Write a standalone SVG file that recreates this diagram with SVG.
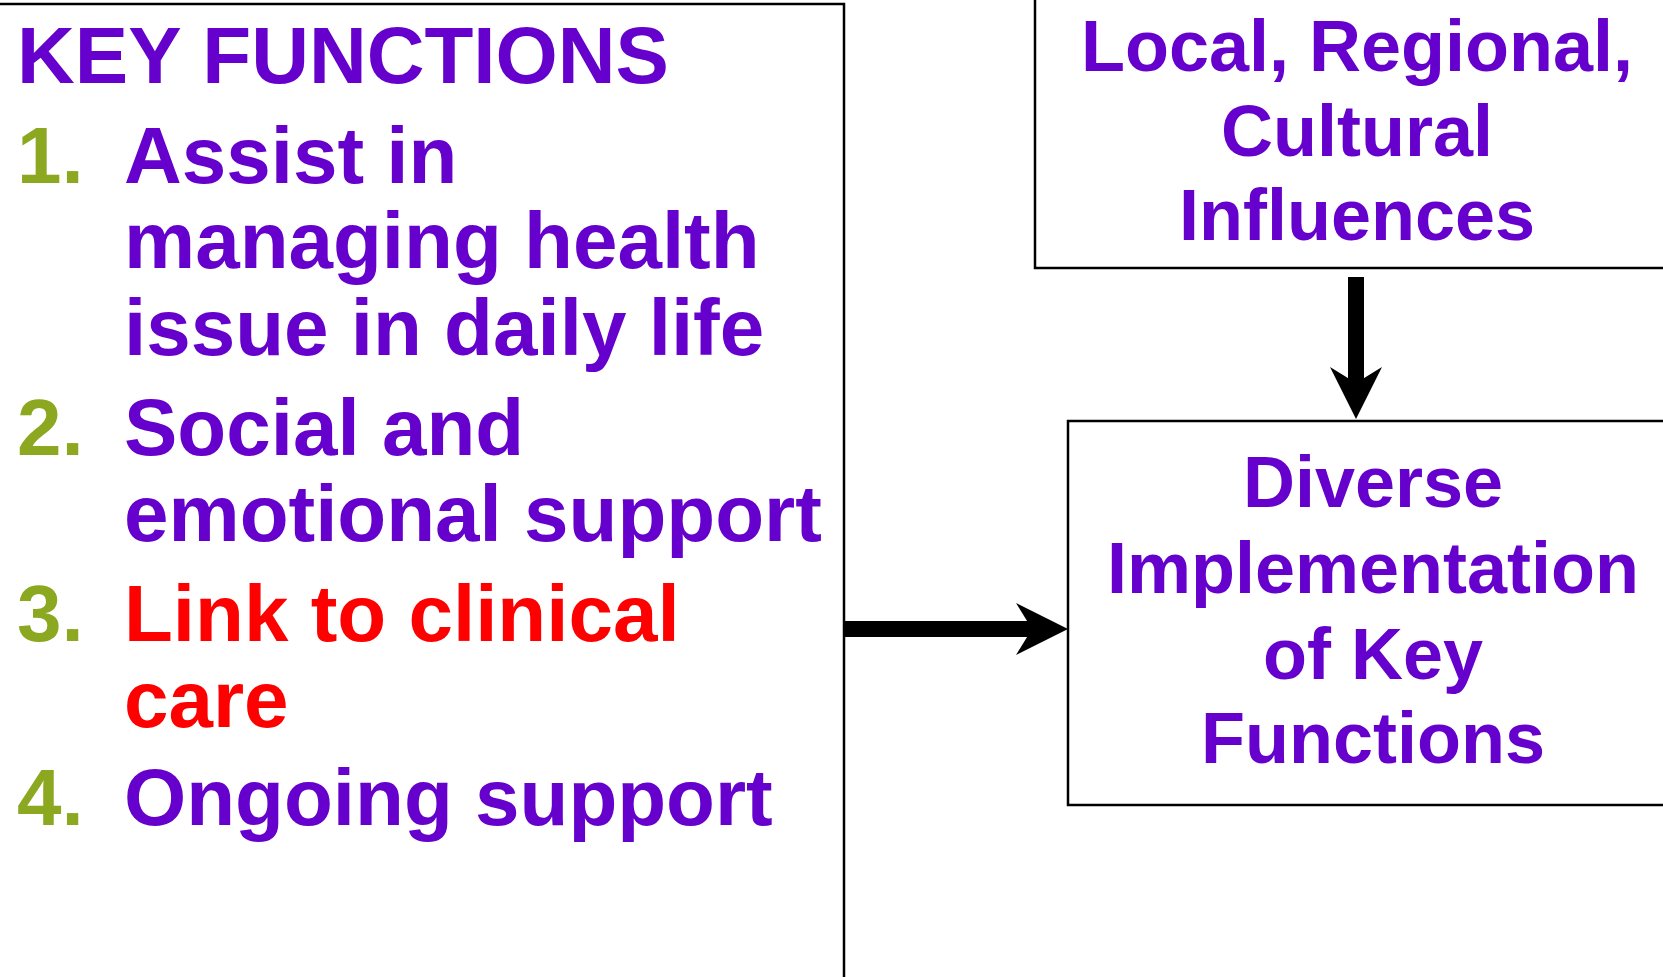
<svg xmlns="http://www.w3.org/2000/svg" width="1663" height="977" viewBox="0 0 1663 977">
  <style>
    .box { fill: #ffffff; stroke: #000000; stroke-width: 2.5; }
    .t { font-family: "Liberation Sans", Arial, sans-serif; font-weight: bold; }
    .list { font-size: 80px; }
    .lbl { font-size: 72px; text-anchor: middle; fill: #6600CC; }
    .purple { fill: #6600CC; }
    .num { fill: #8CA820; }
    .red { fill: #FF0000; }
    .conn { stroke: #000000; stroke-width: 16; fill: none; }
  </style>
  <defs>
    <marker id="head" viewBox="0 0 52 52" refX="16" refY="26" markerWidth="52" markerHeight="52" markerUnits="userSpaceOnUse" orient="auto">
      <path d="M0,0 L52,26 L0,52 L16,26 Z" fill="#000000"/>
    </marker>
  </defs>

  <rect width="1663" height="977" fill="#ffffff"/>

  <!-- Key functions list -->
  <g id="key-functions">
    <rect class="box" x="-10" y="4" width="854" height="1000"/>
    <text class="t list purple" x="17" y="83">KEY FUNCTIONS</text>
    <text class="t list num" x="17" y="183">1.</text>
    <text class="t list purple" x="124" y="183">Assist in</text>
    <text class="t list purple" x="124" y="268">managing health</text>
    <text class="t list purple" x="124" y="355">issue in daily life</text>
    <text class="t list num" x="17" y="455">2.</text>
    <text class="t list purple" x="124" y="455">Social and</text>
    <text class="t list purple" x="124" y="541">emotional support</text>
    <text class="t list num" x="17" y="641">3.</text>
    <text class="t list red" x="124" y="641">Link to clinical</text>
    <text class="t list red" x="124" y="727">care</text>
    <text class="t list num" x="17" y="825">4.</text>
    <text class="t list purple" x="124" y="825">Ongoing support</text>
  </g>

  <!-- Influences -->
  <g id="influences">
    <rect class="box" x="1035" y="-10" width="640" height="278"/>
    <text class="t lbl" x="1357" y="71">Local, Regional,</text>
    <text class="t lbl" x="1357" y="156">Cultural</text>
    <text class="t lbl" x="1357" y="240">Influences</text>
  </g>

  <!-- Diverse implementation -->
  <g id="implementation">
    <rect class="box" x="1068" y="421" width="610" height="384"/>
    <text class="t lbl" x="1373" y="507">Diverse</text>
    <text class="t lbl" x="1373" y="593">Implementation</text>
    <text class="t lbl" x="1373" y="679">of Key</text>
    <text class="t lbl" x="1373" y="763">Functions</text>
  </g>

  <!-- Connectors -->
  <g id="connectors">
    <line class="conn" x1="1356" y1="277" x2="1356" y2="383" marker-end="url(#head)"/>
    <line class="conn" x1="845" y1="629" x2="1032" y2="629" marker-end="url(#head)"/>
  </g>
</svg>
